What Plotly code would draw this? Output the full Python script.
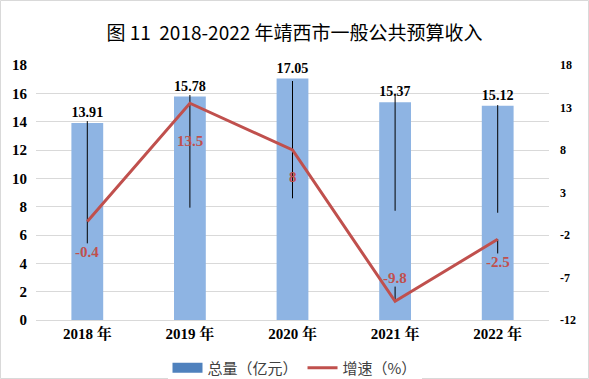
import plotly.graph_objects as go

# ---- data ----
years = ["2018 年", "2019 年", "2020 年", "2021 年", "2022 年"]
total = [13.91, 15.78, 17.05, 15.37, 15.12]          # 总量（亿元）
growth = [-0.4, 13.5, 8, -9.8, -2.5]                 # 增速（%）
left_ticks = [0, 2, 4, 6, 8, 10, 12, 14, 16, 18]
right_ticks = [-12, -7, -2, 3, 8, 13, 18]
# black leader lines (left-axis units)
leader_top = [14.04, 15.88, 16.87, 15.81, 15.17]
leader_bottom = [5.41, 7.93, 8.59, 7.71, 7.57]
# short leader segments of the growth labels (right-axis units)
growth_lead_plus = [0, 0, 0, 1.73, 0]
growth_lead_minus = [0, 0, 0, 0, 1.67]

# ---- styles ----
BAR_COLOR = "#8EB4E3"
LEGEND_BAR_COLOR = "#4F81BD"
LINE_COLOR = "#C0504D"
SERIF = "Liberation Serif, Times New Roman, serif"
SANS = "Noto Sans CJK SC, Noto Sans, sans-serif"
label_shift = [-31, -38, -27, 23, -23]

W, H = 589, 379
ML, MR, MT, MB = 36, 40, 65, 59

fig = go.Figure()

fig.add_trace(go.Bar(
    x=years, y=total, name="总量（亿元）", showlegend=False,
    marker=dict(color=BAR_COLOR, line=dict(width=0)),
    text=[f"{v:.2f}" for v in total], textposition="outside",
    textfont=dict(family=SERIF, size=15, color="black", weight="bold"),
    cliponaxis=False,
    error_y=dict(type="data", symmetric=False,
                 array=[t - v for t, v in zip(leader_top, total)],
                 arrayminus=[v - b for v, b in zip(total, leader_bottom)],
                 color="black", thickness=1, width=0),
))
# legend proxy for the bars (wide rectangular swatch)
fig.add_trace(go.Scatter(x=[years[0]], y=[None], name="总量（亿元）", mode="lines",
                         line=dict(color=LEGEND_BAR_COLOR, width=10), showlegend=True,
                         hoverinfo="skip"))

fig.add_trace(go.Scatter(
    x=years, y=growth, name="增速（%）", yaxis="y2", mode="lines",
    line=dict(color=LINE_COLOR, width=3),
    error_y=dict(type="data", symmetric=False, array=growth_lead_plus,
                 arrayminus=growth_lead_minus, color="black", thickness=1, width=0),
))

for x, g, s in zip(years, growth, label_shift):
    fig.add_annotation(x=x, y=g, yref="y2", text=f"{g:g}", showarrow=False,
                       yshift=s, font=dict(family=SERIF, size=15, color=LINE_COLOR, weight="bold"))

fig.update_layout(
    width=W, height=H, margin=dict(l=ML, r=MR, t=MT, b=MB, autoexpand=False),
    paper_bgcolor="white", plot_bgcolor="white",
    barmode="overlay", bargap=0.69,
    title=dict(text="图 11  2018-2022 年靖西市一般公共预算收入", x=0.5, xanchor="center",
               xref="container", yref="container",
               y=1 - 33 / H, yanchor="middle",
               font=dict(family=SANS, size=19, color="black")),
    xaxis=dict(showline=True, linecolor="#D9D9D9", linewidth=1, ticks="", automargin=False,
               tickfont=dict(family=SERIF + ", Noto Serif CJK SC, Noto Sans CJK SC", size=15,
                             color="black", weight="bold")),
    yaxis=dict(range=[0, 18], tickvals=left_ticks, ticktext=[str(t) for t in left_ticks],
               showgrid=True, gridcolor="#D9D9D9",
               gridwidth=1, zeroline=False, ticklabelstandoff=8, automargin=False,
               tickfont=dict(family=SERIF, size=15, color="black", weight="bold")),
    yaxis2=dict(range=[-12, 18], tickvals=right_ticks, ticktext=[str(t) for t in right_ticks],
                overlaying="y", side="right",
                showgrid=False, zeroline=False, ticklabelstandoff=10, automargin=False,
                tickfont=dict(family=SERIF, size=12, color="black", weight="bold")),
    legend=dict(orientation="h", x=0.5, xanchor="center", xref="container", yref="container",
                y=1 - 368 / H, yanchor="middle",
                font=dict(family=SANS, size=15, color="#404040"),
                itemwidth=30, tracegroupgap=0),
    showlegend=True,
)

pw = W - ML - MR
ph = H - MT - MB
fig.add_shape(type="rect", xref="paper", yref="paper",
              x0=-(ML - 0.5) / pw, x1=1 + (MR - 0.5) / pw,
              y0=-(MB - 0.5) / ph, y1=1 + (MT - 0.5) / ph,
              line=dict(color="#D9D9D9", width=1), fillcolor="rgba(0,0,0,0)", layer="below")

fig.write_html("out.html", config={"displayModeBar": False},
               post_script="document.body.style.margin='0';document.body.style.padding='0';")
